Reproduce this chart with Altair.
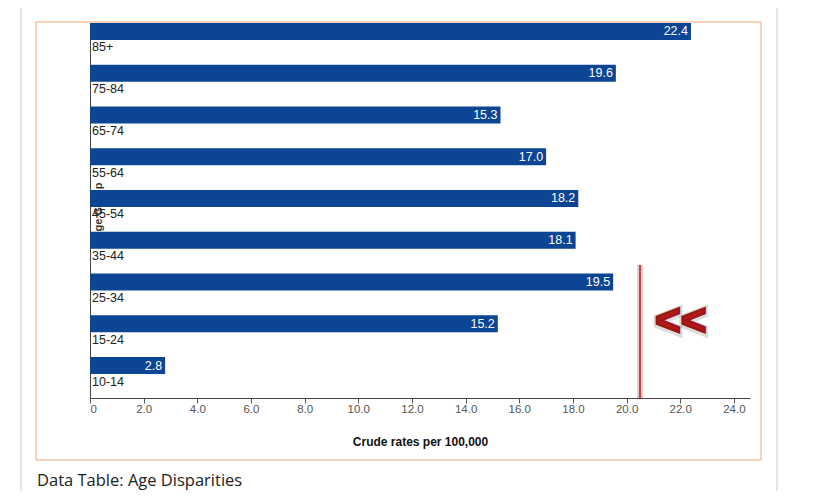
import altair as alt
import pandas as pd

ages = ["85+", "75-84", "65-74", "55-64", "45-54", "35-44", "25-34", "15-24", "10-14"]
rates = [22.4, 19.6, 15.3, 17.0, 18.2, 18.1, 19.5, 15.2, 2.8]
x_ticks = [0, 2, 4, 6, 8, 10, 12, 14, 16, 18, 20, 22, 24]
marker_value = [20.5]

df = pd.DataFrame({"age": ages, "rate": rates})

FONT = "Liberation Sans"
BAR = "#0b4593"

xscale = alt.Scale(domain=[0, 24.6], nice=False, zero=True)
yscale = alt.Scale(domain=ages, paddingInner=0.595, paddingOuter=0.2875, align=0)

xaxis = alt.Axis(
    values=x_ticks,
    labelExpr="datum.value == 0 ? '0' : format(datum.value, '.1f')",
    grid=False,
    tickSize=5,
    tickColor="#555",
    domainColor="#444",
    labelColor="#555",
    labelFont=FONT,
    labelFontSize=11.5,
    labelPadding=0,
    title="Crude rates per 100,000",
    titleFont=FONT,
    titleFontSize=12,
    titleFontWeight="bold",
    titleColor="#111",
    titlePadding=22,
)
yaxis = alt.Axis(labels=False, ticks=False, title=None, domainColor="#444", grid=False)

base = alt.Chart(df)

# page decorations (pixel positions relative to plot area)
deco = pd.DataFrame({"k": [0]})
frame = alt.Chart(deco).mark_rect(fill=None, stroke="#f2a877", strokeWidth=1).encode(
    x=alt.value(-54), x2=alt.value(671), y=alt.value(-1), y2=alt.value(437)
)
left_line = alt.Chart(deco).mark_rule(color="#dcdcdc", strokeWidth=1.5).encode(
    x=alt.value(-69), y=alt.value(-23), y2=alt.value(480)
)
right_line = alt.Chart(deco).mark_rule(color="#dcdcdc", strokeWidth=1.5).encode(
    x=alt.value(687), y=alt.value(-23), y2=alt.value(480)
)
heading = alt.Chart(pd.DataFrame({"t": ["Data Table: Age Disparities"]})).mark_text(
    align="left", baseline="middle", font="Open Sans", fontSize=16.5, color="#222"
).encode(x=alt.value(-53), y=alt.value(458), text="t:N")

age_title = alt.Chart(pd.DataFrame({"t": ["Age Group"]})).mark_text(
    angle=270, align="center", baseline="middle", font=FONT, fontSize=11,
    fontWeight="bold", color="#333"
).encode(x=alt.value(9), y=alt.value(188), text="t:N")

bars = base.mark_bar(color=BAR).encode(
    x=alt.X("rate:Q", scale=xscale, axis=xaxis),
    y=alt.Y("age:N", scale=yscale, axis=yaxis, sort=ages),
)
values = base.mark_text(
    align="right", baseline="middle", dx=-3, color="white", font=FONT, fontSize=12.5
).encode(
    x=alt.X("rate:Q", scale=xscale),
    y=alt.Y("age:N", scale=yscale, sort=ages),
    text=alt.Text("rate:Q", format=".1f"),
)
cats = base.mark_text(
    align="left", baseline="middle", dy=16, color="#222", font=FONT, fontSize=12.5
).encode(
    x=alt.value(2),
    y=alt.Y("age:N", scale=yscale, sort=ages),
    text="age:N",
)

mk = pd.DataFrame({"v": marker_value})
glow = alt.Chart(mk).mark_rule(color="#e06060", strokeWidth=6, opacity=0.35).encode(
    x=alt.X("v:Q", scale=xscale), y=alt.value(242), y2=alt.value(375)
)
redline = alt.Chart(mk).mark_rule(color="#b01c1c", strokeWidth=1.5).encode(
    x=alt.X("v:Q", scale=xscale), y=alt.value(242), y2=alt.value(375)
)
arrows_shadow = alt.Chart(pd.DataFrame({"t": ["<<"]})).mark_text(
    align="left", baseline="middle", font=FONT, fontSize=44, fontWeight="bold",
    color="#000", opacity=0.5, stroke="#000", strokeWidth=7, strokeOpacity=0.25
).encode(x=alt.value(565), y=alt.value(300), text="t:N")
arrows = alt.Chart(pd.DataFrame({"t": ["<<"]})).mark_text(
    align="left", baseline="middle", font=FONT, fontSize=44, fontWeight="bold",
    color="#b51a1a", stroke="#9e1616", strokeWidth=2.5
).encode(x=alt.value(565), y=alt.value(299), text="t:N")

chart = alt.layer(
    left_line, right_line, frame, heading, age_title, bars, values, cats,
    glow, redline, arrows_shadow, arrows
).properties(
    width=660, height=375,
    autosize=alt.AutoSizeParams(type="none"),
    padding={"left": 82, "top": 15, "right": 62, "bottom": 93},
).configure_view(stroke=None)

chart.save("out.html", embed_options={"renderer": "svg", "actions": False})
